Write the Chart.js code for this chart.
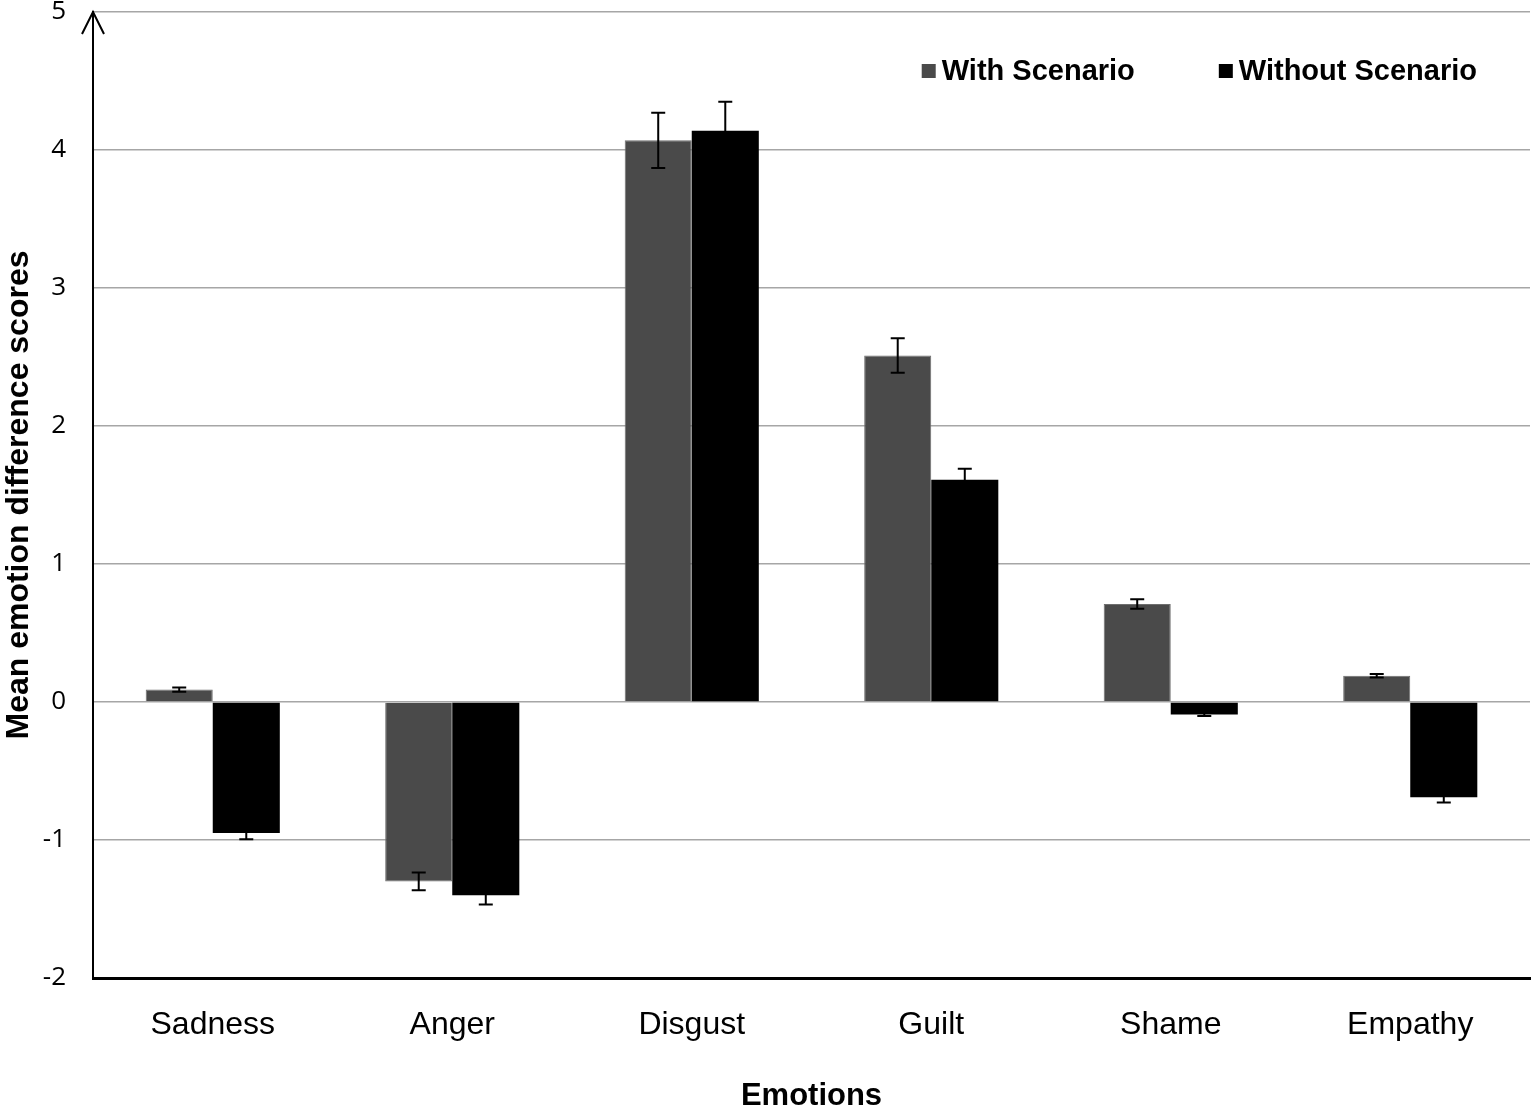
<!DOCTYPE html>
<html>
<head>
<meta charset="utf-8">
<script src="https://cdn.jsdelivr.net/npm/chart.js@4"></script>
<style>
  html, body { margin: 0; padding: 0; background: #fff; }
  #wrap { width: 1531px; height: 1115px; }
</style>
</head>
<body>
<div id="wrap"><canvas id="emotionChart" width="1531" height="1115"></canvas></div>
<script>
// Values
const emotions = ['Sadness', 'Anger', 'Disgust', 'Guilt', 'Shame', 'Empathy'];
const withScenario = [0.09, -1.30, 4.07, 2.51, 0.71, 0.19];
const withoutScenario = [-0.95, -1.40, 4.14, 1.61, -0.09, -0.69];
const withErr = [0.015, 0.065, 0.20, 0.125, 0.035, 0.013];
const withoutErr = [0.045, 0.068, 0.21, 0.08, 0.012, 0.038];
const yTicks = [-2, -1, 0, 1, 2, 3, 4, 5];

const errors = [withErr, withoutErr];

// error bars, drawn from the y scale
const errorBars = {
    id: 'errorBars',
    afterDatasetsDraw(chart) {
        const ctx = chart.ctx;
        const y = chart.scales.y;
        ctx.save();
        ctx.strokeStyle = '#000';
        ctx.lineWidth = 2;
        chart.data.datasets.forEach((ds, i) => {
            const meta = chart.getDatasetMeta(i);
            meta.data.forEach((bar, j) => {
                const v = ds.data[j];
                const e = errors[i][j];
                const top = y.getPixelForValue(v + e);
                const bot = y.getPixelForValue(v - e);
                const x = bar.x;
                ctx.beginPath();
                ctx.moveTo(x, top); ctx.lineTo(x, bot);
                ctx.moveTo(x - 7, top); ctx.lineTo(x + 7, top);
                ctx.moveTo(x - 7, bot); ctx.lineTo(x + 7, bot);
                ctx.stroke();
            });
        });
        ctx.restore();
    }
};

// arrow head on top of the y axis
const axisArrow = {
    id: 'axisArrow',
    afterDraw(chart) {
        const ctx = chart.ctx;
        const a = chart.chartArea;
        ctx.save();
        ctx.strokeStyle = '#000';
        ctx.lineWidth = 2;
        ctx.beginPath();
        ctx.moveTo(a.left - 11, a.top + 22);
        ctx.lineTo(a.left, a.top);
        ctx.lineTo(a.left + 11, a.top + 22);
        ctx.stroke();
        ctx.restore();
    }
};

// legend inside the plot, top right
const insideLegend = {
    id: 'insideLegend',
    afterDraw(chart) {
        const ctx = chart.ctx;
        const a = chart.chartArea;
        ctx.save();
        ctx.font = 'bold 29px "Liberation Sans", Arial, sans-serif';
        ctx.textBaseline = 'middle';
        ctx.textAlign = 'left';
        const sq = 14, gapText = 6, gapItem = 84;
        const cy = 71;
        const items = chart.data.datasets.map(ds => ({
            label: ds.label, color: ds.backgroundColor,
            w: sq + gapText + ctx.measureText(ds.label).width
        }));
        let x = a.right - 53 - items.reduce((s, it) => s + it.w, 0) - gapItem * (items.length - 1);
        items.forEach(it => {
            ctx.fillStyle = it.color;
            ctx.fillRect(x, cy - sq / 2, sq, sq);
            ctx.fillStyle = '#000';
            ctx.fillText(it.label, x + sq + gapText, cy + 1);
            x += it.w + gapItem;
        });
        ctx.restore();
    }
};

const ctx = document.getElementById('emotionChart').getContext('2d');

const emotionChart = new Chart(ctx, {
    type: 'bar',
    data: {
        labels: emotions,
        datasets: [{
            label: 'With Scenario',
            data: withScenario,
            backgroundColor: '#4a4a4a',
            borderColor: '#6e6e6e',
            borderWidth: 1,
            categoryPercentage: 0.56,
            barPercentage: 1.0
        }, {
            label: 'Without Scenario',
            data: withoutScenario,
            backgroundColor: '#000000',
            borderColor: '#000000',
            borderWidth: 0,
            categoryPercentage: 0.56,
            barPercentage: 1.0
        }]
    },
    options: {
        responsive: false,
        animation: false,
        devicePixelRatio: 1,
        layout: { padding: { top: 12, right: 1, left: 0, bottom: 0 } },
        plugins: {
            legend: { display: false },
            tooltip: { enabled: false }
        },
        scales: {
            x: {
                grid: { display: false, drawTicks: false },
                border: { display: true, color: '#000', width: 3 },
                ticks: {
                    color: '#000',
                    padding: 28,
                    font: { family: '"Liberation Sans", Arial, sans-serif', size: 32 }
                },
                title: {
                    display: true,
                    text: 'Emotions',
                    color: '#000',
                    padding: 0,
                    font: { family: '"Liberation Sans", Arial, sans-serif', size: 31, weight: 'bold' }
                },
                afterFit(scale) {
                    scale.height = 137;
                    scale.paddingLeft = 0;
                    scale.paddingRight = 0;
                }
            },
            y: {
                min: -2,
                max: 5,
                afterBuildTicks(scale) { scale.ticks = yTicks.map(v => ({ value: v })); },
                grid: { color: '#a6a6a6', lineWidth: 1.5, drawTicks: false },
                border: { display: true, color: '#000', width: 2 },
                ticks: {
                    color: '#000',
                    padding: 27,
                    font: { family: '"Open Sans", "Liberation Sans", sans-serif', size: 26 }
                },
                title: {
                    display: true,
                    text: 'Mean emotion difference scores',
                    color: '#000',
                    padding: 0,
                    font: { family: '"Liberation Sans", Arial, sans-serif', size: 32, weight: 'bold' }
                },
                afterFit(scale) {
                    scale.width = 93;
                    scale.paddingTop = 0;
                    scale.paddingBottom = 0;
                }
            }
        }
    },
    plugins: [errorBars, axisArrow, insideLegend]
});
</script>
</body>
</html>
